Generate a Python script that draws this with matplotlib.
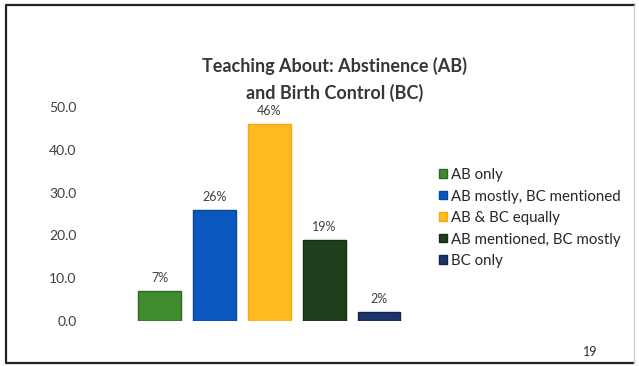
import matplotlib.pyplot as plt

categories = ["AB only", "AB mostly, BC mentioned", "AB & BC equally",
              "AB mentioned, BC mostly", "BC only"]
values = [7, 26, 46, 19, 2]
labels = ["7%", "26%", "46%", "19%", "2%"]
yticks = [0, 10, 20, 30, 40, 50]
colors = ["#3e8c2e", "#0b57c0", "#ffba1f", "#1d3f1c", "#1c3468"]
edges = ["#2c6a22", "#0a4494", "#f0aa10", "#132c13", "#12244c"]

plt.rcParams["font.family"] = ["Lato", "DejaVu Sans"]
text_color = "#404040"

W, H = 639, 366
fig = plt.figure(figsize=(W / 100, H / 100), dpi=100)
fig.patch.set_facecolor("white")

# outer slide frame: dark on three sides, faint on the right
fig.add_artist(plt.Line2D([634 / W, 6 / W, 6 / W, 634 / W], [1 - 5 / H, 1 - 5 / H, 3 / H, 3 / H],
                          transform=fig.transFigure, color="#222222", linewidth=1.6))
fig.add_artist(plt.Line2D([634 / W, 634 / W], [3 / H, 1 - 5 / H],
                          transform=fig.transFigure, color="#cfcfcf", linewidth=1.0))

ax = fig.add_axes([132 / W, (H - 321) / H, 274.5 / W, 214 / H])
x = range(len(values))
bars = ax.bar(x, values, width=0.78, color=colors, edgecolor=edges, linewidth=1.0,
              label=categories)
ax.set_xlim(-0.5, 4.5)
ax.set_ylim(0, 50)
ax.set_yticks(yticks)
ax.set_yticklabels([f"{t:.1f}" for t in yticks])
ax.tick_params(axis="y", length=0, pad=40, labelsize=10, labelcolor=text_color)
ax.set_xticks([])
for s in ax.spines.values():
    s.set_visible(False)

for b, v, lab in zip(bars, values, labels):
    ax.annotate(lab, (b.get_x() + b.get_width() / 2, v), xytext=(0, 5),
                textcoords="offset points", ha="center", va="bottom",
                fontsize=9, color=text_color)

fig.text(335 / W, 1 - 66 / H, "Teaching About: Abstinence (AB)", ha="center", va="center",
         fontsize=13, fontweight="bold", color="#363636")
fig.text(335 / W, 1 - 93 / H, "and Birth Control (BC)", ha="center", va="center",
         fontsize=13, fontweight="bold", color="#363636")

leg = fig.legend(handles=list(bars), labels=categories, loc="upper left",
                 bbox_to_anchor=(433 / W, 1 - 162 / H), frameon=False,
                 fontsize=10.8, handlelength=0.5, handleheight=0.5, handletextpad=0.3,
                 labelspacing=0.5, borderaxespad=0)
for t in leg.get_texts():
    t.set_color("#262626")

fig.text(590 / W, 1 - 352 / H, "19", ha="center", va="center", fontsize=9, color="#262626")

fig.savefig("out.png", dpi=100)
